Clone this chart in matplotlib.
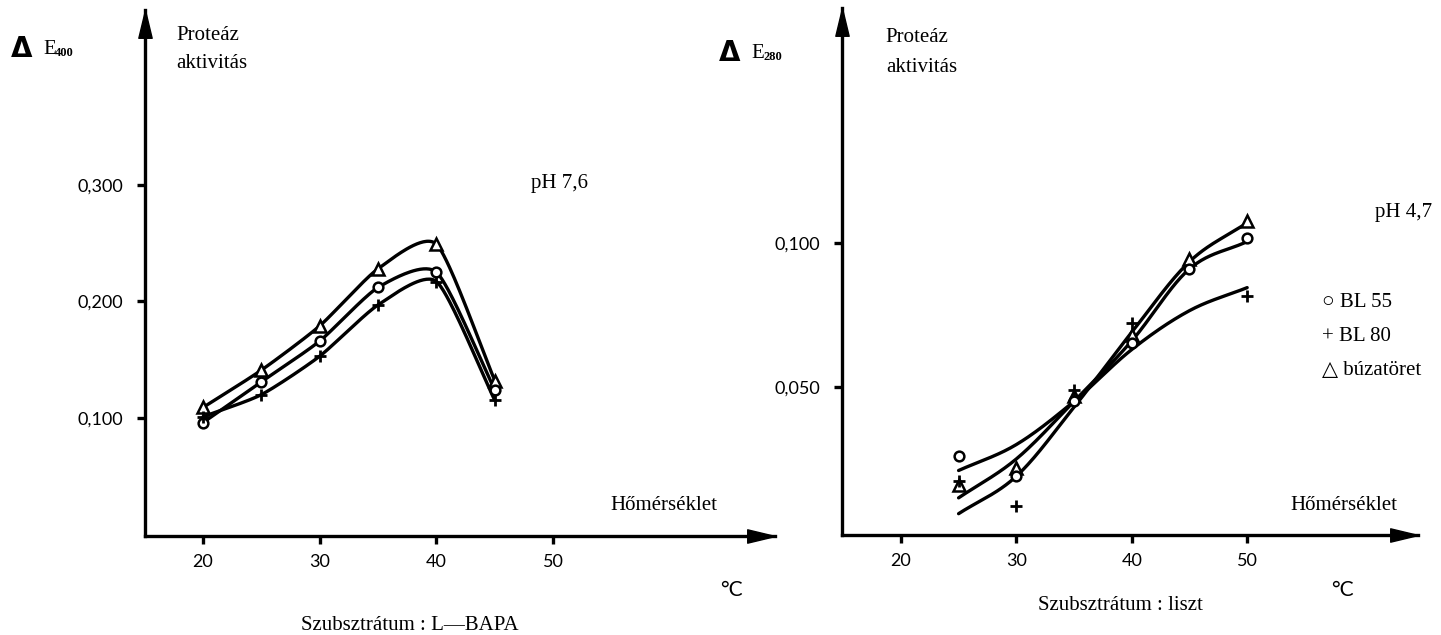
"""Protease activity vs temperature, two panels (scanned figure redraw)"""

import numpy as np
import matplotlib.pyplot as plt

W, H = 1441, 635

# Left panel: substrate L-BAPA, pH 7.6
temp_left = [20, 25, 30, 35, 40, 45]
bl55_left = [0.096, 0.131, 0.166, 0.212, 0.225, 0.124]
bl80_left = [0.101, 0.120, 0.153, 0.197, 0.217, 0.115]
wheat_left = [0.109, 0.141, 0.179, 0.228, 0.249, 0.132]

# Right panel: substrate flour, pH 4.7
temp_right = [25, 30, 35, 40, 45, 50]
bl55_right = [0.0262, 0.0190, 0.0452, 0.0654, 0.0911, 0.1016]
bl80_right = [0.0175, 0.0085, 0.0490, 0.0723, np.nan, 0.0815]
wheat_right = [0.0161, 0.0220, 0.0470, 0.0680, 0.0943, 0.1075]

# hand drawn curves of the right panel (they do not go through the points)
fit_bl80_right = [0.021, 0.030, 0.045, 0.063, 0.0765, 0.0845]
fit_bl55_right = [0.0115, 0.025, 0.045, 0.066, 0.091, 0.1005]
fit_wheat_right = [0.006, 0.019, 0.043, 0.069, 0.0935, 0.107]

x_ticks = [20, 30, 40, 50]
y_ticks_left = [0.100, 0.200, 0.300]
y_ticks_right = [0.050, 0.100]

SERIF = ["Liberation Serif", "DejaVu Serif"]
SANS = ["Lato", "DejaVu Sans"]
LW = 2.4

# arrow head shapes, tip at the origin
HEAD_UP = [(0, 0), (-0.24, -1), (0.24, -1), (0, 0)]
HEAD_RIGHT = [(0, 0), (-1, 0.24), (-1, -0.24), (0, 0)]


def smooth(x, y, n=40, tension=0.35):
    """Cardinal spline through the given points (less overshoot than Catmull-Rom)"""
    pts = np.column_stack([x, y]).astype(float)
    pts = np.vstack([2 * pts[0] - pts[1], pts, 2 * pts[-1] - pts[-2]])
    t = np.linspace(0, 1, n)[:, None]
    h00 = 2 * t ** 3 - 3 * t ** 2 + 1
    h10 = t ** 3 - 2 * t ** 2 + t
    h01 = -2 * t ** 3 + 3 * t ** 2
    h11 = t ** 3 - t ** 2
    segs = []
    for i in range(1, len(pts) - 2):
        p0, p1, p2, p3 = pts[i - 1], pts[i], pts[i + 1], pts[i + 2]
        m1 = (1 - tension) * (p2 - p0) / 2
        m2 = (1 - tension) * (p3 - p1) / 2
        segs.append(h00 * p1 + h10 * m1 + h01 * p2 + h11 * m2)
    out = np.vstack(segs)
    return out[:, 0], out[:, 1]


def px(x, y):
    """pixel position -> figure fraction"""
    return x / W, 1 - y / H


def make_axes(fig, left, right, top, bottom, xlim, ylim, yticks):
    l, b = px(left, bottom)
    r, t = px(right, top)
    ax = fig.add_axes([l, b, r - l, t - b])
    ax.set_xlim(*xlim)
    ax.set_ylim(*ylim)
    for side in ["top", "right"]:
        ax.spines[side].set_visible(False)
    for side in ["left", "bottom"]:
        ax.spines[side].set_linewidth(LW)
    ax.set_xticks(x_ticks)
    ax.set_yticks(yticks)
    ax.set_yticklabels([f"{v:.3f}".replace(".", ",") for v in yticks])
    ax.tick_params(axis="both", direction="out", length=6, width=2.4,
                   labelsize=13)
    ax.tick_params(axis="y", pad=10)
    ax.tick_params(axis="x", pad=7)
    for lab in ax.get_xticklabels() + ax.get_yticklabels():
        lab.set_family(SANS)
    ax.patch.set_visible(False)
    # arrow heads
    ax.plot(1, 0, marker=HEAD_RIGHT, ms=40, color="black",
            transform=ax.transAxes, clip_on=False)
    ax.plot(0, 1, marker=HEAD_UP, ms=40, color="black",
            transform=ax.transAxes, clip_on=False)
    return ax


def draw_markers(ax, x, y, marker, ms, mew):
    ax.plot(x, y, linestyle="none", marker=marker, ms=ms, mew=mew,
            mfc="white", mec="black", color="black", zorder=4)


fig = plt.figure(figsize=(W / 100, H / 100), dpi=100)

# ---- left panel
ax1 = make_axes(fig, 145, 775, 10, 536, (15.03, 69.0), (-0.0013, 0.450),
                y_ticks_left)
for vals in [wheat_left, bl55_left, bl80_left]:
    xs, ys = smooth(temp_left, vals)
    ax1.plot(xs, ys, color="black", lw=LW, solid_capstyle="round", zorder=3)
draw_markers(ax1, temp_left, wheat_left, "^", 8, 1.8)
draw_markers(ax1, temp_left, bl55_left, "o", 7, 1.8)
draw_markers(ax1, temp_left, bl80_left, "+", 9, 2.0)

# ---- right panel
ax2 = make_axes(fig, 842, 1418, 8, 535, (14.9, 64.8), (-0.0014, 0.1816),
                y_ticks_right)
for vals in [fit_bl80_right, fit_bl55_right, fit_wheat_right]:
    xs, ys = smooth(temp_right, vals, tension=0.0)
    ax2.plot(xs, ys, color="black", lw=LW, solid_capstyle="round", zorder=3)
draw_markers(ax2, temp_right, wheat_right, "^", 8, 1.8)
draw_markers(ax2, temp_right, bl55_right, "o", 7, 1.8)
draw_markers(ax2, temp_right, bl80_right, "+", 9, 2.0)


# ---- texts
def label(x, y, s, size=15, ha="left", va="center", family=SERIF, **kw):
    fig.text(*px(x, y), s, fontsize=size, ha=ha, va=va, family=family, **kw)


for x0, y0, sub in [(11, 49, "400"), (719, 53, "280")]:
    label(x0, y0, "Δ", size=20, family=["DejaVu Sans"], weight="bold")
    label(x0 + 32, y0, "E", size=15)
    label(x0 + 44, y0 + 4, sub, size=9, weight="bold")

label(176, 35, "Proteáz")
label(176, 64, "aktivitás")
label(885, 38, "Proteáz")
label(886, 67, "aktivitás")

label(531, 183, "pH 7,6")
label(1432, 213, "pH 4,7", ha="right")

label(717, 505, "Hőmérséklet", ha="right")
label(1397, 505, "Hőmérséklet", ha="right")

label(720, 590, "°C", size=15, family=SANS)
label(1331, 590, "°C", size=15, family=SANS)

label(410, 625, "Szubsztrátum : L—BAPA", ha="center")
label(1120, 605, "Szubsztrátum : liszt", ha="center")

legend_rows = ["○ BL 55", "+ BL 80", "△ búzatöret"]
for i, row in enumerate(legend_rows):
    label(1322, 303 + 33.5 * i, row, family=SERIF + ["DejaVu Sans"])

fig.savefig("out.png", dpi=100)
